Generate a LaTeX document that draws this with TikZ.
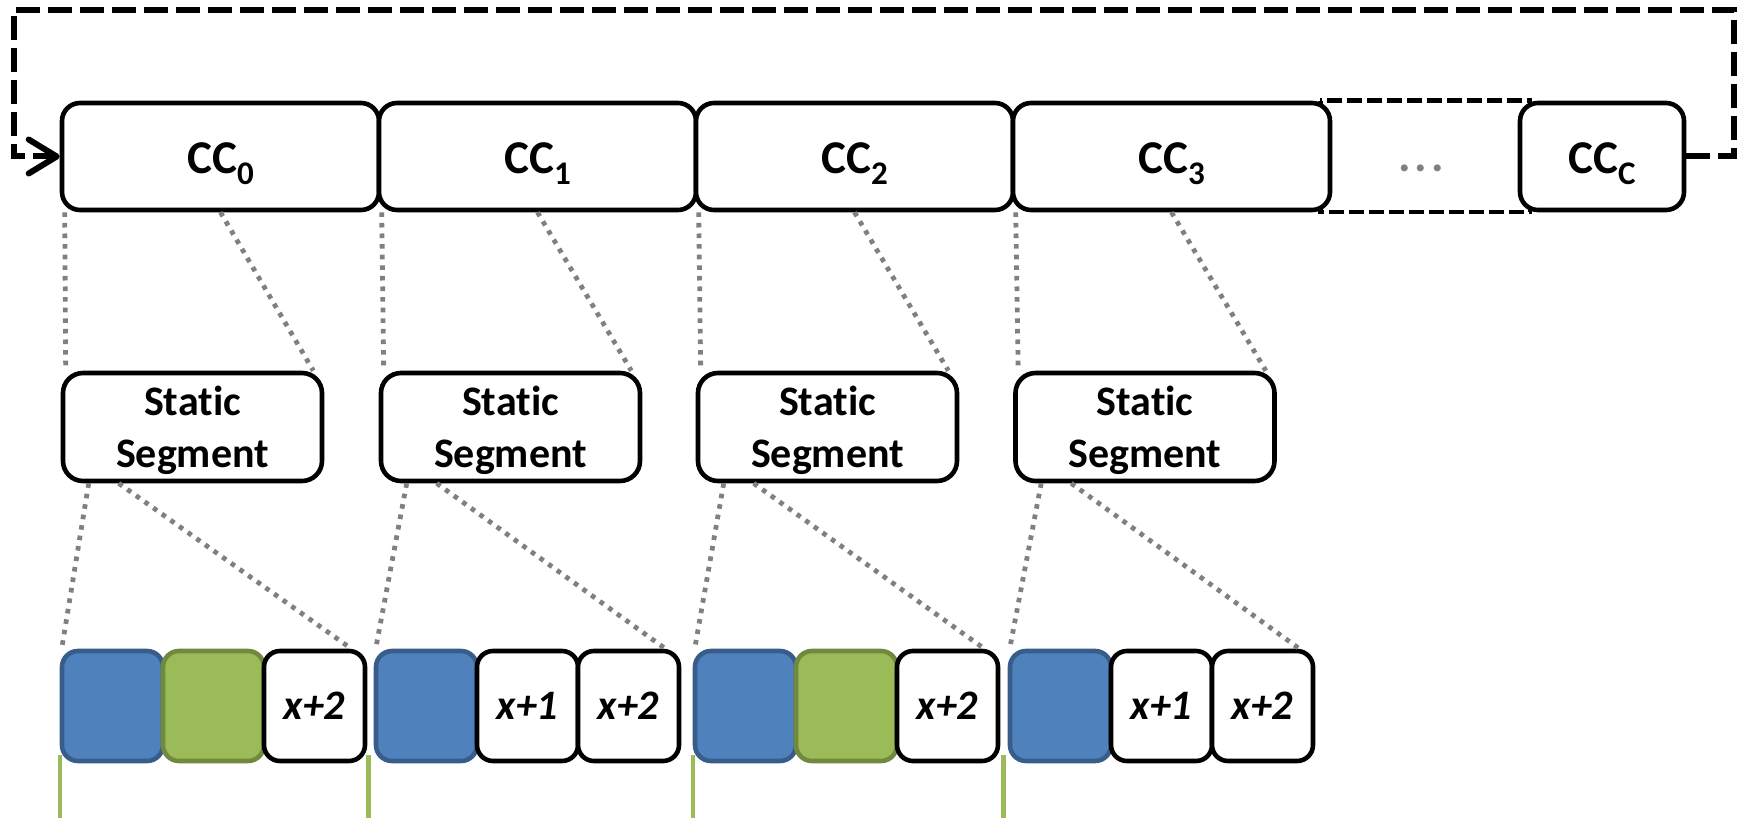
\documentclass[tikz,border=0pt]{standalone}
\usepackage{fontspec}
\setmainfont{Carlito}[Ligatures=NoCommon]
\usetikzlibrary{arrows.meta,calc,backgrounds}
\definecolor{slotblue}{HTML}{4F81BD}
\definecolor{slotblueedge}{HTML}{385D8A}
\definecolor{slotgreen}{HTML}{9BBB59}
\definecolor{slotgreenedge}{HTML}{71893F}
\definecolor{linkgray}{HTML}{808080}
\newcommand{\ccsub}[1]{CC\raisebox{-5.5pt}{\fontsize{16.5}{16.5}\selectfont #1}}
\newcommand{\segtext}{\rule{0pt}{18.5pt}Static\\Segment}
\begin{document}
\begin{tikzpicture}[x=0.5pt,y=-0.5pt,
  cycle/.style={draw, line width=2.3pt, rounded corners=9pt, fill=white,
    minimum height=53.5pt, inner sep=0pt,
    font=\fontsize{23.5}{27}\selectfont\bfseries, text height=17.5pt, text depth=0pt},
  ccbox/.style={cycle, minimum width=158.5pt},
  cclast/.style={cycle, minimum width=82pt},
  segbox/.style={draw, line width=2.3pt, rounded corners=10pt, fill=white,
    minimum width=129.5pt, minimum height=54pt, inner sep=0pt, align=center,
    font=\fontsize{21}{26}\selectfont\bfseries},
  slot/.style={draw, line width=2.3pt, rounded corners=8pt,
    minimum width=50.5pt, minimum height=55pt, inner sep=0pt,
    font=\fontsize{21}{24}\selectfont\bfseries\itshape},
  slotB/.style={slot, fill=slotblue, draw=slotblueedge},
  slotG/.style={slot, fill=slotgreen, draw=slotgreenedge},
  slotW/.style={slot, fill=white, draw=black},
  dotlink/.style={draw=linkgray, line width=2.4pt, dash pattern=on 2.3pt off 3pt},
  loopline/.style={line width=3pt, dash pattern=on 12pt off 4pt,
    -{Straight Barb[length=14pt,width=17pt,line cap=round,line join=round]}},
  gapbox/.style={line width=2.2pt, dash pattern=on 7.5pt off 2.5pt},
  greenline/.style={draw=slotgreen, line width=2.2pt},
  dots/.style={text=linkgray, font=\fontsize{23.5}{27}\selectfont\bfseries, inner sep=0pt}
]
\useasboundingbox (0,0) rectangle (1746,818);

% communication cycles
\node[ccbox] (cc0) at (220.5,156.5) {\ccsub{0}};
\node[ccbox] (cc1) at (537.5,156.5) {\ccsub{1}};
\node[ccbox] (cc2) at (854.5,156.5) {\ccsub{2}};
\node[ccbox] (cc3) at (1171.5,156.5) {\ccsub{3}};
\node[cclast] (ccc) at (1602,156.5) {\ccsub{C}};
\node[dots, anchor=base] (ellip) at (1421,172) {.\kern2pt.\kern2pt.};

\begin{pgfonlayer}{background}
  \draw[gapbox] ([xshift=-6pt]cc3.north east) rectangle ([xshift=6pt]ccc.south west);
\end{pgfonlayer}

% feedback loop from the last cycle back to the first
\coordinate (loopTR) at (1734,10);
\coordinate (loopTL) at (14,10);
\draw[loopline] (ccc.east) -| (loopTR) -- (loopTL) |- (cc0.west);

% static segments
\node[segbox] (ss0) at (192.5,427) {\segtext};
\node[segbox] (ss1) at (510.5,427) {\segtext};
\node[segbox] (ss2) at (827.5,427) {\segtext};
\node[segbox] (ss3) at (1145,427) {\segtext};

% slots
\node[slotB] (r0a) at (112.5,706) {};
\node[slotG] (r0b) at (213.5,706) {};
\node[slotW] (r0c) at (314.5,706) {x+2};
\node[slotB] (r1a) at (426.5,706) {};
\node[slotW] (r1b) at (527.5,706) {x+1};
\node[slotW] (r1c) at (628.5,706) {x+2};
\node[slotB] (r2a) at (745.5,706) {};
\node[slotG] (r2b) at (846.5,706) {};
\node[slotW] (r2c) at (947.5,706) {x+2};
\node[slotB] (r3a) at (1060.5,706) {};
\node[slotW] (r3b) at (1161.5,706) {x+1};
\node[slotW] (r3c) at (1262.5,706) {x+2};

% zoom links: cycle -> static segment -> slots
\foreach \i in {0,1,2,3}{
  \draw[dotlink] ([xshift=2.5pt]cc\i.south west) -- ([xshift=2.5pt]ss\i.north west);
  \draw[dotlink] (cc\i.south) -- ([xshift=-5.5pt]ss\i.north east);
  \draw[dotlink] ([xshift=14pt]ss\i.south west) -- ([xshift=1pt]r\i a.north west);
  \draw[dotlink] ([xshift=29pt]ss\i.south west) -- ([xshift=-8pt]r\i c.north east);
}

% green markers below the rows holding a green slot
\draw[greenline] ([yshift=4pt]r0a.south west) -- ++(0,70);
\draw[greenline] ([xshift=0.5pt,yshift=4pt]r0c.south east) -- ++(0,70);
\draw[greenline] ([yshift=4pt]r2a.south west) -- ++(0,70);
\draw[greenline] ([xshift=1.5pt,yshift=4pt]r2c.south east) -- ++(0,70);
\end{tikzpicture}
\end{document}
